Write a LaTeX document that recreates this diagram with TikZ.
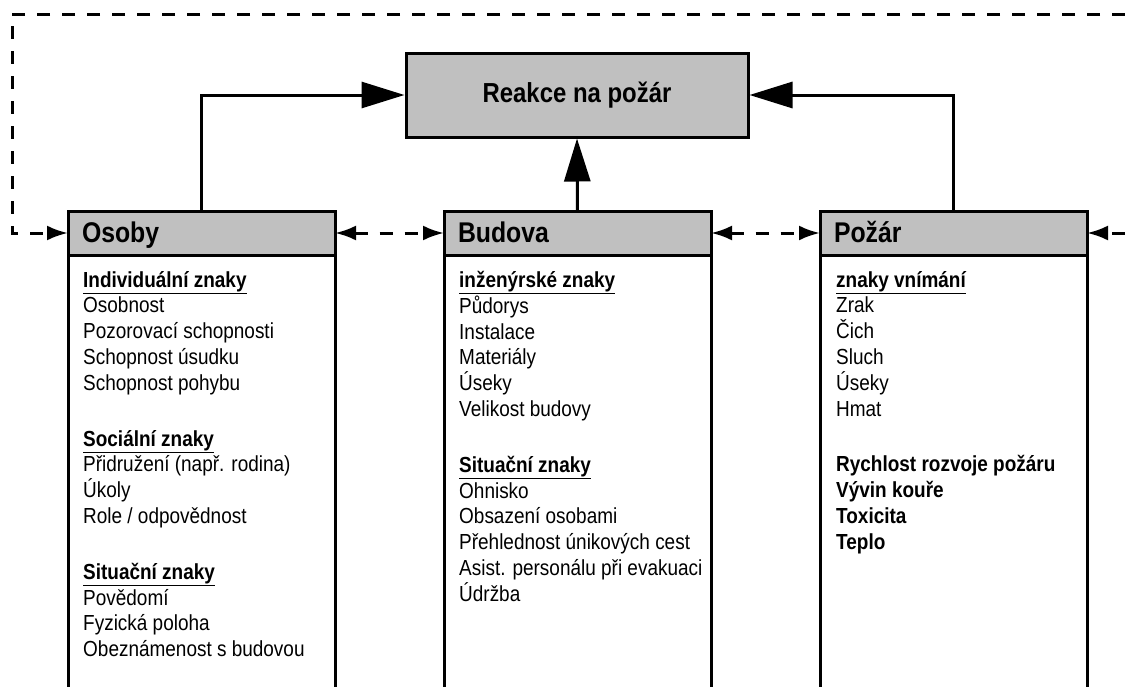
\documentclass[tikz,border=0pt]{standalone}
\usepackage{fontspec}
\setmainfont{Liberation Sans}[FakeStretch=0.87]
\usetikzlibrary{arrows.meta}
\definecolor{boxgray}{RGB}{192,192,192}
\tikzset{
	head/.style={draw,fill=boxgray,line width=3pt,outer sep=0pt,anchor=north west,minimum width=267pt,minimum height=44pt,text width=239pt,text height=22pt,text depth=4pt,inner xsep=14pt,align=left,font=\fontsize{28.5}{30}\selectfont\bfseries},
	items/.style={anchor=north west,inner sep=0pt,align=left,font=\fontsize{21.8}{25.8}\selectfont},
	side/.style={line width=3pt},
	mainarrow/.style={line width=3pt,-{Triangle[length=43pt,width=26pt]}},
	dashlink/.style={line width=3pt,dash pattern=on 13pt off 12pt},
	bothtips/.style={{Latex[length=21pt,width=15pt]}-{Latex[length=21pt,width=15pt]}},
	endtip/.style={-{Latex[length=21pt,width=15pt]}}
}
\newcommand{\sect}[1]{\underline{\textbf{#1}}}

\begin{document}
\begin{tikzpicture}[x=1pt,y=-1pt]
		\useasboundingbox (0,0) rectangle (1125,686);
		\node[draw,fill=boxgray,line width=3pt,minimum width=342pt,minimum height=84pt,font=\fontsize{27.5}{30}\selectfont\bfseries] (reakce) at (577,95) {Reakce na požár};
		\node[head] (osoby) at (68,211) {Osoby};
		\node[head] (budova) at (444,211) {Budova};
		\node[head] (pozar) at (820,211) {Požár};
		\draw[side] (osoby.south west) to ++(0,450);
		\draw[side] (osoby.south east) to ++(0,450);
		\draw[side] (budova.south west) to ++(0,450);
		\draw[side] (budova.south east) to ++(0,450);
		\draw[side] (pozar.south west) to ++(0,450);
		\draw[side] (pozar.south east) to ++(0,450);
		\node[items] (osobyItems) at (83,271) {\sect{Individuální znaky}\\
		Osobnost\\
		Pozorovací schopnosti\\
		Schopnost úsudku\\
		Schopnost pohybu\\[30pt]
		\sect{Sociální znaky}\\
		Přidružení (např. rodina)\\
		Úkoly\\
		Role / odpovědnost\\[30pt]
		\sect{Situační znaky}\\
		Povědomí\\
		Fyzická poloha\\
		Obeznámenost s budovou};
		\node[items] (budovaItems) at (459,271) {\sect{inženýrské znaky}\\
		Půdorys\\
		Instalace\\
		Materiály\\
		Úseky\\
		Velikost budovy\\[30pt]
		\sect{Situační znaky}\\
		Ohnisko\\
		Obsazení osobami\\
		Přehlednost únikových cest\\
		Asist. personálu při evakuaci\\
		Údržba};
		\node[items] (pozarItems) at (836,271) {\sect{znaky vnímání}\\
		Zrak\\
		Čich\\
		Sluch\\
		Úseky\\
		Hmat\\[30pt]
		\textbf{Rychlost rozvoje požáru}\\
		\textbf{Vývin kouře}\\
		\textbf{Toxicita}\\
		\textbf{Teplo}};
		\coordinate (loopTR) at (1125,14);
		\coordinate (loopBL) at (12,233);
		\coordinate (loopR) at (1125,233);
		\draw[mainarrow] (osoby.north) |- (reakce.west);
		\draw[mainarrow] (pozar.north) |- (reakce.east);
		\draw[mainarrow] (budova.north) to (reakce.south);
		\draw[dashlink,bothtips] (osoby.east) to (budova.west);
		\draw[dashlink,bothtips] (budova.east) to (pozar.west);
		\draw[dashlink,endtip] (loopTR) -| (loopBL) to (osoby.west);
		\draw[dashlink,endtip] (loopR) to (pozar.east);
\end{tikzpicture}
\end{document}
